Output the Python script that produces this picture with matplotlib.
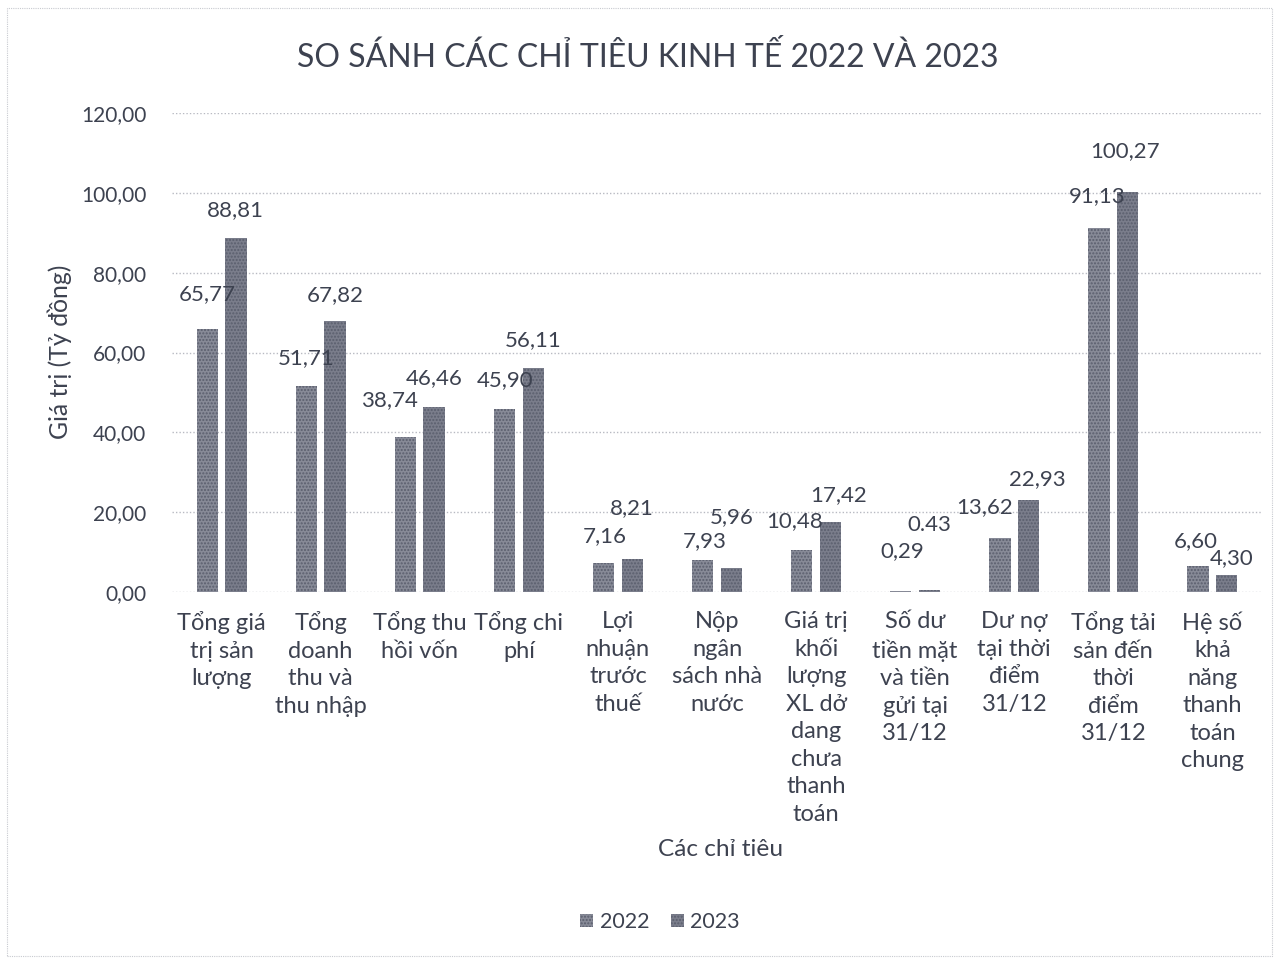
import matplotlib
matplotlib.use("Agg")
import matplotlib.pyplot as plt
import numpy as np
from matplotlib.patches import Rectangle

categories = [
    "Tổng giá\ntrị sản\nlượng",
    "Tổng\ndoanh\nthu và\nthu nhập",
    "Tổng thu\nhồi vốn",
    "Tổng chi\nphí",
    "Lợi\nnhuận\ntrước\nthuế",
    "Nộp\nngân\nsách nhà\nnước",
    "Giá trị\nkhối\nlượng\nXL dở\ndang\nchưa\nthanh\ntoán",
    "Số dư\ntiền mặt\nvà tiền\ngửi tại\n31/12",
    "Dư nợ\ntại thời\nđiểm\n31/12",
    "Tổng tải\nsản đến\nthời\nđiểm\n31/12",
    "Hệ số\nkhả\nnăng\nthanh\ntoán\nchung",
]
values_2022 = [65.77, 51.71, 38.74, 45.90, 7.16, 7.93, 10.48, 0.29, 13.62, 91.13, 6.60]
values_2023 = [88.81, 67.82, 46.46, 56.11, 8.21, 5.96, 17.42, 0.43, 22.93, 100.27, 4.30]
labels_2022 = ["65,77", "51,71", "38,74", "45,90", "7,16", "7,93", "10,48", "0,29", "13,62", "91,13", "6,60"]
labels_2023 = ["88,81", "67,82", "46,46", "56,11", "8,21", "5,96", "17,42", "0.43", "22,93", "100,27", "4,30"]
series_names = ["2022", "2023"]
yticks = [0, 20, 40, 60, 80, 100, 120]
ytick_labels = ["0,00", "20,00", "40,00", "60,00", "80,00", "100,00", "120,00"]

# label offsets (pixels) relative to bar top centre
dx22 = [0, 0, -16, 1, 1, 2, -7, 1, -15, -2, -2]
dy22 = [35, 27, 37, 29, 27, 19, 29, 40, 31, 32, 25]
dx23 = [-1, 0, 0, 0, 0, 0, 8, 0, 9, -3, 5]
dy23 = [27, 26, 28, 28, 51, 51, 27, 65, 21, 41, 17]

plt.rcParams['font.family'] = ['Lato', 'Open Sans', 'DejaVu Sans']
plt.rcParams['hatch.color'] = '#5a5e6d'
TXT = '#3d4250'

W, H = 1279, 958
fig = plt.figure(figsize=(W / 100, H / 100), dpi=100)
fig.patch.set_facecolor('white')

left, right, bottom, top = 172, 1262, 592, 113
ax = fig.add_axes([left / W, (H - bottom) / H, (right - left) / W, (bottom - top) / H])

x = np.arange(len(categories))
bw = 0.215
off = 0.145
c22, c23 = '#878a97', '#7a7d8b'
b1 = ax.bar(x - off, values_2022, bw, color=c22, edgecolor='#5a5e6d', linewidth=0, hatch='.....', zorder=3, label=series_names[0])
b2 = ax.bar(x + off, values_2023, bw, color=c23, edgecolor='#5a5e6d', linewidth=0, hatch='.....', zorder=3, label=series_names[1])

px = 0.72
for i in range(len(categories)):
    ax.annotate(labels_2022[i], (x[i] - off, values_2022[i]), xytext=(dx22[i] * px, dy22[i] * px),
                textcoords='offset points', ha='center', va='center', fontsize=16, color=TXT, zorder=4)
    ax.annotate(labels_2023[i], (x[i] + off, values_2023[i]), xytext=(dx23[i] * px, dy23[i] * px),
                textcoords='offset points', ha='center', va='center', fontsize=16, color=TXT, zorder=4)

ax.set_xlim(-0.5, len(categories) - 0.5)
ax.set_ylim(0, 120)
ax.set_yticks(yticks)
ax.set_yticklabels(ytick_labels, fontsize=15, color=TXT)
ax.set_xticks(x)
ax.set_xticklabels(categories, fontsize=17, color=TXT, linespacing=1.38, va='top')
ax.tick_params(axis='y', length=0, pad=18.5)
ax.tick_params(axis='x', length=0, pad=14)
for s in ax.spines.values():
    s.set_visible(False)
ax.grid(axis='y', color='#b8bac2', linestyle=(0, (1, 1.5)), linewidth=1.0, zorder=0)
ax.set_axisbelow(True)

fig.text(648 / W, 1 - 57 / H, "SO SÁNH CÁC CHỈ TIÊU KINH TẾ 2022 VÀ 2023", ha='center', va='center',
         fontsize=23, color=TXT)
fig.text(60 / W, 1 - 352 / H, "Giá trị (Tỷ đồng)", rotation=90, ha='center', va='center',
         fontsize=17.8, color=TXT)
fig.text(721 / W, 1 - 850 / H, "Các chỉ tiêu", ha='center', va='center', fontsize=17.6, color=TXT)

fig.legend(handles=[b1, b2], labels=series_names, loc='center', bbox_to_anchor=(660 / W, 1 - 922 / H),
           ncol=2, frameon=False, fontsize=15.5, handlelength=0.6, handleheight=0.6, handletextpad=0.3,
           columnspacing=1.0, labelcolor=TXT)

fig.patches.append(Rectangle((7 / W, 2 / H), 1265 / W, 948 / H, transform=fig.transFigure, fill=False,
                             edgecolor='#c8cad0', linewidth=0.8, linestyle=(0, (1, 1))))

fig.savefig('out.png', dpi=100)
